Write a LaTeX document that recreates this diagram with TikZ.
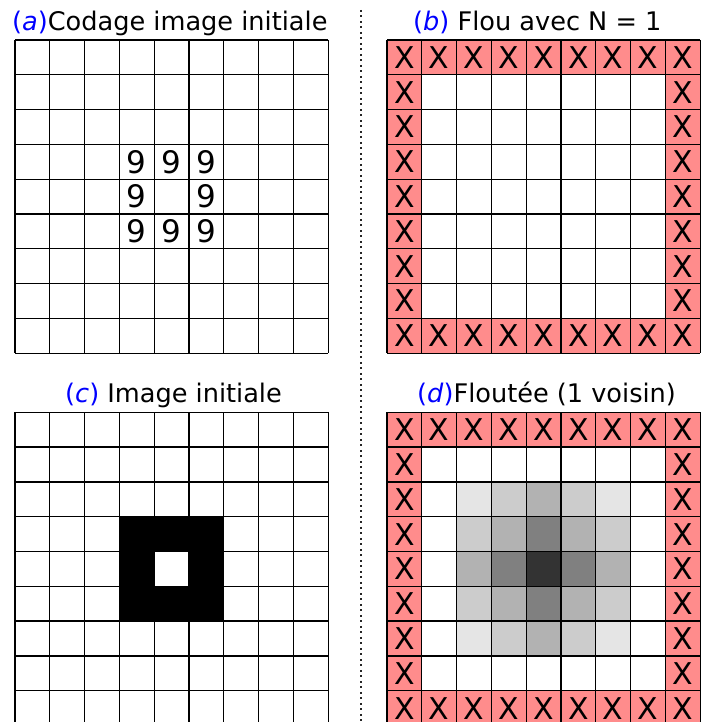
\documentclass[tikz,border=0pt]{standalone}
\usepackage{fontspec}
\setmainfont{DejaVu Sans}[ItalicFont={DejaVu Sans Oblique},BoldFont={DejaVu Sans Bold}]
\newcommand\cs{34.8}
\newcommand\mygrid[2]{%
  \foreach \i in {0,...,9}{%
    \draw[gridline] (#1+\i*\cs,#2) -- (#1+\i*\cs,#2-9*\cs);
    \draw[gridline] (#1,#2-\i*\cs) -- (#1+9*\cs,#2-\i*\cs);
  }}
\newcommand\myborder[2]{%
  \fill[xfill] (#1,#2) rectangle (#1+9*\cs,#2-9*\cs);
  \fill[white] (#1+\cs,#2-\cs) rectangle (#1+8*\cs,#2-8*\cs);
  \foreach \k in {0,...,8}{%
    \node[xmark] at (#1+\k*\cs+0.5*\cs,#2-0.5*\cs) {X};
    \node[xmark] at (#1+\k*\cs+0.5*\cs,#2-8.5*\cs) {X};
  }
  \foreach \k in {1,...,7}{%
    \node[xmark] at (#1+0.5*\cs,#2-\k*\cs-0.5*\cs) {X};
    \node[xmark] at (#1+8.5*\cs,#2-\k*\cs-0.5*\cs) {X};
  }}
\begin{document}
\begin{tikzpicture}[x=1pt,y=1pt,
  gridline/.style={line width=1.3pt,black},
  xfill/.style={fill={rgb,255:red,255;green,140;blue,140}},
  xmark/.style={font=\fontsize{30}{30}\selectfont,inner sep=0pt},
  nine/.style={font=\fontsize{31}{31}\selectfont,inner sep=0pt},
  title/.style={font=\fontsize{25.6}{26}\selectfont,inner sep=0pt,anchor=base west},
  lab/.style={text=blue}]
\useasboundingbox (0,0) rectangle (710,722);
\clip (0,0) rectangle (710,722);
% separator
\coordinate (septop) at (361,712);
\coordinate (sepbot) at (361,0);
\draw[line width=2pt,black!85,dash pattern=on 2pt off 3.5pt] (septop) -- (sepbot);
% titles
\node[title] (ta) at (12,691) {\textcolor{blue}{(\textit{a})}Codage image initiale};
\node[title] (tb) at (413,691) {\textcolor{blue}{(\textit{b})} Flou avec N = 1};
\node[title] (tc) at (65,319) {\textcolor{blue}{(\textit{c})} Image initiale};
\node[title] (td) at (417,319) {\textcolor{blue}{(\textit{d})}Floutée (1 voisin)};
% panel a
\foreach \r/\c in {3/3,3/4,3/5,4/3,4/5,5/3,5/4,5/5}{%
  \node[nine] at (15+\c*\cs+0.5*\cs,682-\r*\cs-0.5*\cs) {9};}
\mygrid{15}{682}
% panel b
\myborder{387}{682}
\mygrid{387}{682}
% panel c
\foreach \r/\c in {3/3,3/4,3/5,4/3,4/5,5/3,5/4,5/5}{%
  \fill[black] (15+\c*\cs,309.7-\r*\cs) rectangle +(\cs,-\cs);}
\mygrid{15}{309.7}
% panel d
\myborder{387}{309.7}
\foreach \row [count=\r from 2] in {{10,20,30,20,10},{20,30,50,30,20},{30,50,80,50,30},{20,30,50,30,20},{10,20,30,20,10}}{%
  \foreach \g [count=\c from 2] in \row {%
    \fill[black!\g] (387+\c*\cs,309.7-\r*\cs) rectangle +(\cs,-\cs);}}
\mygrid{387}{309.7}
\end{tikzpicture}
\end{document}
